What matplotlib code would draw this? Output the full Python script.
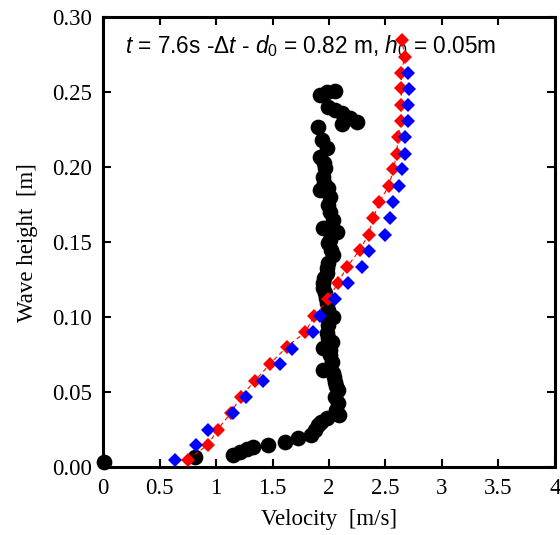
import matplotlib
matplotlib.use("Agg")
import matplotlib.pyplot as plt

plt.rcParams['font.family'] = ['Liberation Serif', 'DejaVu Serif']
plt.rcParams['mathtext.fontset'] = 'custom'
plt.rcParams['mathtext.rm'] = 'Liberation Sans'
plt.rcParams['mathtext.it'] = 'Liberation Sans:italic'

# Measured velocity profile (black circles)
meas_v = [0.01, 0.81, 1.15, 1.21, 1.27, 1.33, 1.46, 1.61, 1.73, 1.84, 1.88, 1.90, 1.93, 1.98,
          2.09, 2.06, 2.08, 2.05, 2.08, 2.06, 2.05, 2.04, 2.035, 1.95, 2.03, 2.01, 2.01, 1.95,
          2.03, 1.99, 1.98, 1.99, 2.035, 1.98, 1.99, 1.98, 1.975, 1.965, 1.95, 1.95, 1.96,
          1.98, 1.98, 1.99, 2.035, 2.02, 1.99, 2.01, 2.07, 1.95, 2.035, 2.01, 1.99, 2.01,
          1.92, 1.99, 1.96, 1.95, 1.965, 1.96, 1.92, 1.98, 1.94, 1.90,
          2.115, 2.25, 2.19, 2.115, 2.05, 1.99, 2.05, 1.98, 1.92]
meas_h = [0.0033, 0.0067, 0.008, 0.010, 0.012, 0.0133, 0.0147, 0.0167, 0.0193, 0.0213, 0.0247,
          0.028, 0.030, 0.0327, 0.0347, 0.038, 0.0427, 0.0467, 0.0513, 0.054, 0.0567, 0.060,
          0.0627, 0.0647, 0.070, 0.0747, 0.078, 0.0793, 0.0833, 0.086, 0.0893, 0.0947, 0.100,
          0.100, 0.1047, 0.1093, 0.1127, 0.116, 0.1193, 0.1227, 0.126, 0.1293, 0.1327, 0.136,
          0.1413, 0.1447, 0.1493, 0.1513, 0.1567, 0.1593, 0.1647, 0.170, 0.1747, 0.180,
          0.1847, 0.186, 0.1893, 0.1933, 0.1993, 0.2027, 0.2067, 0.2127, 0.218, 0.227,
          0.229, 0.230, 0.233, 0.236, 0.238, 0.240, 0.251, 0.250, 0.248]

# Red diamonds (with dashed line)
red_v = [0.755, 0.93, 1.015, 1.13, 1.22, 1.345, 1.48, 1.625, 1.79, 1.87, 1.995, 2.08, 2.16,
         2.27, 2.35, 2.39, 2.445, 2.53, 2.57, 2.60, 2.61, 2.64, 2.64, 2.64, 2.64, 2.67, 2.645]
red_h = [0.005, 0.015, 0.025, 0.036, 0.047, 0.0575, 0.069, 0.080, 0.090, 0.1007, 0.112, 0.123,
         0.1335, 0.1445, 0.155, 0.166, 0.1765, 0.1875, 0.1985, 0.209, 0.220, 0.231, 0.2415,
         0.2525, 0.263, 0.2736, 0.2847]

# Blue diamonds
blue_v = [0.637, 0.823, 0.93, 1.148, 1.265, 1.42, 1.566, 1.67, 1.86, 1.92, 2.05, 2.165, 2.29,
          2.354, 2.50, 2.54, 2.57, 2.62, 2.65, 2.67, 2.67, 2.70, 2.70, 2.71, 2.70]
blue_h = [0.005, 0.015, 0.025, 0.036, 0.047, 0.0575, 0.0685, 0.079, 0.090, 0.1007, 0.112,
          0.123, 0.1335, 0.144, 0.155, 0.166, 0.1765, 0.1875, 0.1985, 0.209, 0.220, 0.231,
          0.2415, 0.252, 0.263]

xticks = [0, 0.5, 1, 1.5, 2, 2.5, 3, 3.5, 4]
xticklabels = ['0', '0.5', '1', '1.5', '2', '2.5', '3', '3.5', '4']
yticks = [0.00, 0.05, 0.10, 0.15, 0.20, 0.25, 0.30]
yticklabels = ['0.00', '0.05', '0.10', '0.15', '0.20', '0.25', '0.30']

fig = plt.figure(figsize=(5.6, 5.35), dpi=100)
ax = fig.add_axes([0.184, 0.127, 0.807, 0.841])

ax.plot(meas_v, meas_h, 'o', color='black', markersize=10.3, linestyle='none',
        clip_on=False, zorder=3)
ax.plot(red_v, red_h, linestyle=(0, (4, 3)), color='red', linewidth=0.8, marker='D',
        markersize=7.2, markerfacecolor='red', markeredgecolor='red', markeredgewidth=0,
        clip_on=False, zorder=4)
ax.plot(blue_v, blue_h, linestyle='none', marker='D', markersize=7.2,
        markerfacecolor='blue', markeredgecolor='blue', markeredgewidth=0,
        clip_on=False, zorder=5)

ax.set_xlim(0, 4)
ax.set_ylim(0, 0.30)
ax.set_xticks(xticks)
ax.set_xticklabels(xticklabels)
ax.set_yticks(yticks)
ax.set_yticklabels(yticklabels)

for s in ax.spines.values():
    s.set_linewidth(2.2)
ax.tick_params(direction='in', length=6, width=1.5, top=True, right=True,
               labelsize=16.5, pad=8)

ax.set_xlabel('Velocity  [m/s]', fontsize=16.5, labelpad=7)
ax.set_ylabel('Wave height  [m]', fontsize=16.5, labelpad=10)

ax.text(0.048, 0.935, r'$t$ = 7.6s -$\Delta t$ - $d_0$ = 0.82 m, $h_0$ = 0.05m',
        transform=ax.transAxes, fontsize=16.3, family='Liberation Sans',
        ha='left', va='center', zorder=2)

fig.savefig('out.png', dpi=100)
